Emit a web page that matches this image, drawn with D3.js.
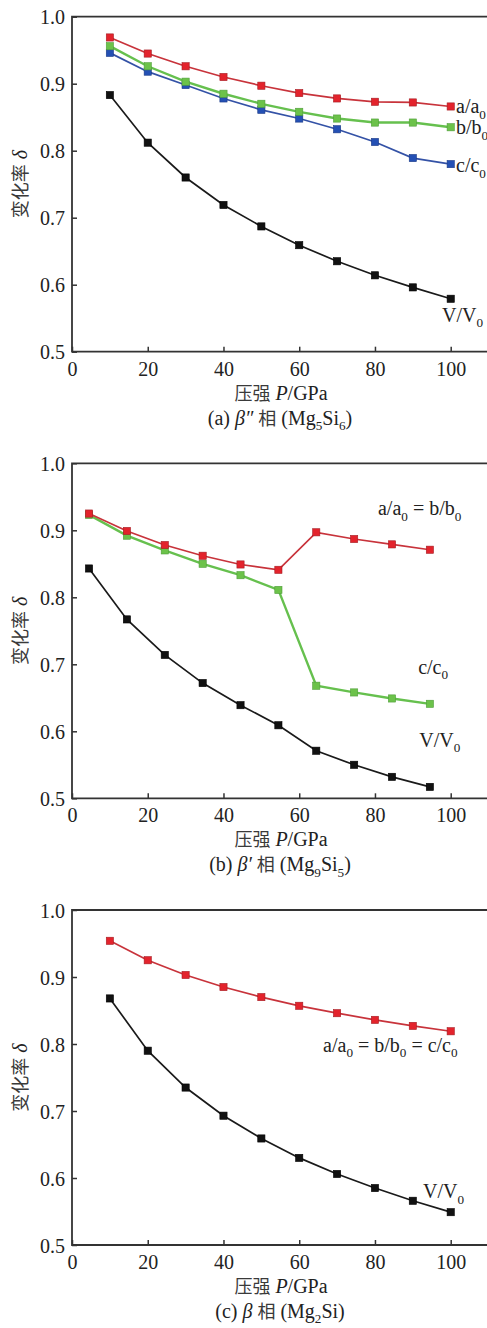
<!DOCTYPE html>
<html><head><meta charset="utf-8">
<script src="https://cdn.jsdelivr.net/npm/d3@7"></script>
<style>
html,body{margin:0;padding:0;background:#fff;}
text{font-family:"Liberation Serif","Times New Roman","Noto Sans CJK SC",serif;fill:#222;}
</style></head><body>
<svg id="chart" width="487" height="1328"></svg>
<script>
// ---------- data ----------
const xTicks = [0, 20, 40, 60, 80, 100];
const yTicks = [0.5, 0.6, 0.7, 0.8, 0.9, 1.0];

// (a) beta'' phase Mg5Si6
const pA = [10, 20, 30, 40, 50, 60, 70, 80, 90, 100];
const aA = [0.969, 0.945, 0.926, 0.910, 0.897, 0.886, 0.878, 0.873, 0.872, 0.866];
const bA = [0.956, 0.926, 0.903, 0.885, 0.870, 0.858, 0.848, 0.842, 0.842, 0.835];
const cA = [0.946, 0.918, 0.898, 0.878, 0.861, 0.848, 0.832, 0.813, 0.789, 0.780];
const vA = [0.883, 0.812, 0.760, 0.719, 0.687, 0.659, 0.635, 0.614, 0.596, 0.579];

// (b) beta' phase Mg9Si5
const pB = [4.5, 14.5, 24.5, 34.5, 44.5, 54.5, 64.5, 74.5, 84.5, 94.5];
const abB = [0.925, 0.899, 0.878, 0.862, 0.849, 0.841, 0.897, 0.887, 0.879, 0.871];
const cB = [0.923, 0.892, 0.870, 0.850, 0.833, 0.811, 0.668, 0.658, 0.649, 0.641];
const vB = [0.843, 0.767, 0.714, 0.672, 0.639, 0.609, 0.571, 0.550, 0.532, 0.517];

// (c) beta phase Mg2Si
const pC = [10, 20, 30, 40, 50, 60, 70, 80, 90, 100];
const abcC = [0.954, 0.925, 0.903, 0.885, 0.870, 0.857, 0.846, 0.836, 0.827, 0.819];
const vC = [0.868, 0.790, 0.735, 0.693, 0.659, 0.630, 0.606, 0.585, 0.566, 0.549];

// ---------- styles ----------
const COL = {
  red:   {line:"#c8333b", fill:"#e3232c", edge:"#a51d24", w:1.7},
  green: {line:"#66c04e", fill:"#6cc24a", edge:"#4f9e3a", w:2.4},
  blue:  {line:"#3452a6", fill:"#2450b4", edge:"#1b3a86", w:1.7},
  black: {line:"#1a1a1a", fill:"#111111", edge:"#000000", w:1.7}
};
const SERIF = "'Liberation Serif','Times New Roman',serif";
const CJK = "'Noto Sans CJK SC',sans-serif";

// text spec: array of [text, style]; style: "i" italic, "s" subscript, "c" CJK
const panels = [
  {top:16.7, caption:[["(a) "],["β″","i"],[" "],["相","c"],[" (Mg"],["5","s"],["Si"],["6","s"],[")"]],
   series:[{x:pA,y:vA,c:"black"},{x:pA,y:cA,c:"blue"},{x:pA,y:bA,c:"green"},{x:pA,y:aA,c:"red"}],
   labels:[{x:101.4,y:0.866,t:[["a/a"],["0","s"]]},{x:101.4,y:0.835,t:[["b/b"],["0","s"]]},
           {x:101.4,y:0.778,t:[["c/c"],["0","s"]]},{x:97.7,y:0.555,t:[["V/V"],["0","s"]]}]},
  {top:463.3, caption:[["(b) "],["β′","i"],[" "],["相","c"],[" (Mg"],["9","s"],["Si"],["5","s"],[")"]],
   series:[{x:pB,y:vB,c:"black"},{x:pB,y:cB,c:"green"},{x:pB,y:abB,c:"red"}],
   labels:[{x:80.8,y:0.933,t:[["a/a"],["0","s"],[" = b/b"],["0","s"]]},
           {x:91.4,y:0.696,t:[["c/c"],["0","s"]]},{x:91.7,y:0.5875,t:[["V/V"],["0","s"]]}]},
  {top:910, caption:[["(c) "],["β","i"],[" "],["相","c"],[" (Mg"],["2","s"],["Si)"]],
   series:[{x:pC,y:vC,c:"black"},{x:pC,y:abcC,c:"red"}],
   labels:[{x:66.3,y:0.799,t:[["a/a"],["0","s"],[" = b/b"],["0","s"],[" = c/c"],["0","s"]]},
           {x:92.7,y:0.580,t:[["V/V"],["0","s"]]}]}
];

const svg = d3.select("#chart");
const X0 = 72, PH = 335;
const x = d3.scaleLinear().domain([0, 100]).range([X0, 450.7]);

function richText(sel, spec, fs) {
  let pending = 0;
  const sh = fs * 0.27;
  spec.forEach(([t, f]) => {
    const ts = sel.append("tspan").text(t);
    if (f === "s") {
      ts.attr("font-size", fs * 0.66).attr("dy", sh + pending);
      pending = -sh;
    } else {
      if (pending) ts.attr("dy", pending);
      pending = 0;
      if (f === "i") ts.attr("font-style", "italic");
      if (f === "c") ts.attr("font-family", CJK).attr("font-size", fs * 0.9).attr("fill", "#3a3a3a");
    }
  });
}

panels.forEach((P) => {
  const g = svg.append("g");
  const y = d3.scaleLinear().domain([0.5, 1.0]).range([P.top + PH, P.top]);
  const xEnd = x(110);

  g.append("path")
    .attr("d", `M${xEnd},${y(1)}H${X0}V${y(0.5)}H${xEnd}`)
    .attr("fill", "none").attr("stroke", "#333").attr("stroke-width", 1.8);

  const xa = g.append("g").attr("transform", `translate(0,${y(0.5)})`)
    .call(d3.axisBottom(x).tickValues(xTicks).tickSizeInner(-5).tickSizeOuter(0).tickFormat(d3.format("d")));
  xa.attr("font-family", SERIF);
  xa.select(".domain").remove();
  xa.selectAll("line").attr("stroke", "#333").attr("stroke-width", 1.5);
  xa.selectAll("text").attr("font-size", 20).attr("fill", "#222")
    .attr("y", 17).attr("dy", "0.35em").attr("font-family", SERIF);

  const ya = g.append("g").attr("transform", `translate(${X0},0)`)
    .call(d3.axisLeft(y).tickValues(yTicks).tickSizeInner(-5).tickSizeOuter(0).tickFormat(d3.format(".1f")));
  ya.attr("font-family", SERIF);
  ya.select(".domain").remove();
  ya.selectAll("line").attr("stroke", "#333").attr("stroke-width", 1.5);
  ya.selectAll("text").attr("font-size", 20).attr("fill", "#222")
    .attr("x", -7).attr("dy", "0.35em").attr("font-family", SERIF);

  const yl = g.append("text")
    .attr("transform", `translate(20,${(y(1) + y(0.5)) / 2}) rotate(-90)`)
    .attr("text-anchor", "middle").attr("dy", "0.35em").attr("font-size", 20);
  richText(yl, [["变化率","c"],[" "],["δ","i"]], 20);

  const xt = g.append("text").attr("x", 281).attr("y", y(0.5) + 41)
    .attr("text-anchor", "middle").attr("dy", "0.35em").attr("font-size", 20);
  richText(xt, [["压强","c"],[" "],["P","i"],["/GPa"]], 20);

  const cp = g.append("text").attr("x", 280).attr("y", y(0.5) + 66)
    .attr("text-anchor", "middle").attr("dy", "0.35em").attr("font-size", 20);
  richText(cp, P.caption, 20);

  const line = d3.line().x(d => x(d[0])).y(d => y(d[1]));
  P.series.forEach(s => {
    const pts = s.x.map((v, i) => [v, s.y[i]]);
    const c = COL[s.c];
    g.append("path").datum(pts).attr("d", line)
      .attr("fill", "none").attr("stroke", c.line).attr("stroke-width", c.w);
    g.selectAll(null).data(pts).enter().append("rect")
      .attr("x", d => x(d[0]) - 3.6).attr("y", d => y(d[1]) - 3.6)
      .attr("width", 7.2).attr("height", 7.2)
      .attr("fill", c.fill).attr("stroke", c.edge).attr("stroke-width", 0.6);
  });

  P.labels.forEach(l => {
    const t = g.append("text").attr("x", x(l.x)).attr("y", y(l.y))
      .attr("dy", "0.35em").attr("font-size", 20);
    richText(t, l.t, 20);
  });
});
</script>
</body></html>
